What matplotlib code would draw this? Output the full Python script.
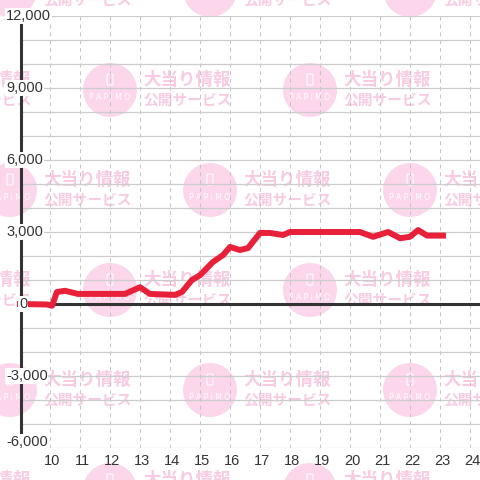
import matplotlib
matplotlib.use('Agg')
import matplotlib.pyplot as plt
from matplotlib.patches import Circle, FancyBboxPatch
from matplotlib.transforms import blended_transform_factory, ScaledTranslation

# datos (hora, diferencia)
horas = [9.0, 9.9, 10.07, 10.23, 10.5, 10.93, 12.5, 13.0, 13.33, 14.17, 14.4, 14.73,
         15.0, 15.43, 15.77, 16.0, 16.33, 16.6, 17.0, 17.33, 17.77, 18.0, 20.33,
         20.77, 21.27, 21.67, 22.0, 22.27, 22.57, 23.1]
valores = [0, -20, -70, 500, 550, 420, 420, 700, 420, 380, 500, 1000,
           1200, 1750, 2040, 2375, 2250, 2330, 2960, 2960, 2875, 3000, 3000,
           2800, 3000, 2740, 2800, 3080, 2850, 2850]
xticks = list(range(10, 25))
yticks = list(range(-6000, 12001, 3000))
ylabels = ['-6,000', '-3,000', '0', '3,000', '6,000', '9,000', '12,000']

W = 480
fig = plt.figure(figsize=(4.8, 4.8), dpi=100)

# marca de agua de fondo
bg = fig.add_axes([0, 0, 1, 1], zorder=-1)
bg.set_xlim(0, W)
bg.set_ylim(W, 0)
bg.axis('off')
rosa_c = '#fcd6eb'
rosa_t = '#f8cbe2'
for fila, cy in enumerate(range(-10, 591, 100)):
    inicio = 10 if fila % 2 == 0 else -90
    for cx in range(inicio, 600, 200):
        bg.add_patch(Circle((cx, cy), 27, color=rosa_c, lw=0))
        bg.add_patch(FancyBboxPatch((cx - 3, cy - 16), 6, 11, boxstyle='round,pad=0,rounding_size=1.2',
                                    fill=False, ec='white', lw=0.8))
        bg.text(cx, cy + 8, 'P A P i M O', color='white', fontsize=5.5,
                ha='center', va='center', family='DejaVu Sans')
        bg.text(cx + 33, cy - 10, '大当り情報', color=rosa_t, fontsize=12.6, fontweight='bold',
                ha='left', va='center', family=['Noto Sans CJK JP', 'DejaVu Sans'])
        bg.text(cx + 33, cy + 9, '公開サービス', color=rosa_t, fontsize=10.6, fontweight='bold',
                ha='left', va='center', family=['Noto Sans CJK JP', 'DejaVu Sans'])

# grafico principal
ax = fig.add_axes([20.5 / W, 32 / W, (W - 20.5) / W, 432 / W])
ax.patch.set_alpha(0)
ax.set_xlim(10 + (20.5 - 50) / 30, 10 + (W - 50) / 30)
ax.set_ylim(-6000, 12000)

ax.set_yticks(range(-6000, 12001, 1000))
ax.set_xticks(xticks)
ax.grid(axis='y', color='#cccccc', lw=0.9)
ax.grid(axis='x', color='#c4c4c4', lw=0.7, ls=(0, (4, 4)))
ax.tick_params(axis='y', length=0, labelleft=False)
ax.tick_params(axis='x', length=0, pad=4, labelsize=10.5, labelcolor='#333333')
desplaza = ScaledTranslation(2 / 100, 0, fig.dpi_scale_trans)
for lab in ax.get_xticklabels():
    lab.set_family('Liberation Sans')
    lab.set_transform(lab.get_transform() + desplaza)

for s in ['top', 'right', 'bottom']:
    ax.spines[s].set_visible(False)
ax.spines['left'].set_color('#333333')
ax.spines['left'].set_linewidth(2.2)

ax.axhline(0, color='#333333', lw=2.2, zorder=3)
ax.plot(horas, valores, color='#e8203a', lw=4.3, solid_joinstyle='round', zorder=4,
        clip_on=False)

# etiquetas del eje y
tr = blended_transform_factory(fig.transFigure, ax.transData)
for v, t in zip(yticks, ylabels):
    x = 19 / W if t == '0' else 6 / W
    y = v + 250 if v == -6000 else v
    ax.text(x, y, t, transform=tr, ha='left', va='center', fontsize=10.5, color='#333333',
            family='Liberation Sans', zorder=6,
            bbox=dict(facecolor='white', edgecolor='none', pad=0.5))

fig.savefig('out.png', dpi=100)
